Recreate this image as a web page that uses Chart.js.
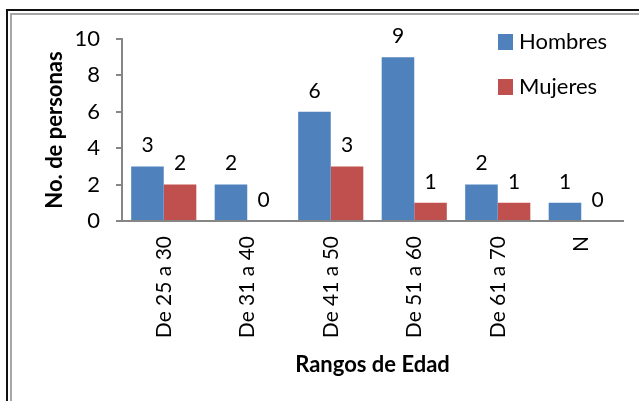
<!DOCTYPE html>
<html>
<head>
<meta charset="utf-8">
<script src="https://cdn.jsdelivr.net/npm/chart.js@4.4.1/dist/chart.umd.min.js"></script>
<style>
  html, body { margin: 0; padding: 0; background: #ffffff; }
  #wrap { width: 639px; height: 401px; position: relative; }
</style>
</head>
<body>
<div id="wrap"><canvas id="c" width="639" height="401"></canvas></div>
<script>
const categories = ["De 25 a 30", "De 31 a 40", "De 41 a 50", "De 51 a 60", "De 61 a 70", "N"];
const hombres = [3, 2, 6, 9, 2, 1];
const mujeres = [2, 0, 3, 1, 1, 0];
const seriesNames = ["Hombres", "Mujeres"];
const yTicks = [0, 2, 4, 6, 8, 10];

const FONT = "Lato, 'Open Sans', sans-serif";
const AXIS = "#868686";

const frame = {
  id: 'frame',
  beforeDraw(chart) {
    const ctx = chart.ctx;
    ctx.save();
    ctx.fillStyle = '#ffffff';
    ctx.fillRect(0, 0, chart.width, chart.height);
    ctx.fillStyle = '#111111';
    ctx.fillRect(6, 9, chart.width - 6, 2);
    ctx.fillRect(6, 9, 2, chart.height - 9);
    ctx.fillStyle = '#a6a6a6';
    ctx.fillRect(10, 13, chart.width - 10, 2);
    ctx.fillRect(10, 13, 2, chart.height - 13);
    ctx.restore();
  }
};

const valueLabels = {
  id: 'valueLabels',
  afterDatasetsDraw(chart) {
    const ctx = chart.ctx;
    ctx.save();
    ctx.font = "21px " + FONT;
    ctx.fillStyle = '#000000';
    ctx.textAlign = 'center';
    ctx.textBaseline = 'middle';
    chart.data.datasets.forEach((ds, i) => {
      const meta = chart.getDatasetMeta(i);
      meta.data.forEach((bar, j) => {
        ctx.fillText(String(ds.data[j]), bar.x, bar.y - 21);
      });
    });
    ctx.restore();
  }
};

const sideLegend = {
  id: 'sideLegend',
  afterDraw(chart) {
    const ctx = chart.ctx;
    const x0 = chart.chartArea.right - 125;
    const y0 = chart.chartArea.top + 3;
    ctx.save();
    ctx.font = "22px " + FONT;
    ctx.textAlign = 'left';
    ctx.textBaseline = 'middle';
    chart.data.datasets.forEach((ds, i) => {
      const y = y0 + i * 45;
      ctx.fillStyle = ds.backgroundColor;
      ctx.fillRect(x0, y - 8, 15, 16);
      ctx.fillStyle = '#000000';
      ctx.fillText(ds.label, x0 + 21, y);
    });
    ctx.restore();
  }
};

new Chart(document.getElementById('c'), {
  type: 'bar',
  data: {
    labels: categories,
    datasets: [
      { label: seriesNames[0], data: hombres, backgroundColor: '#4F81BD' },
      { label: seriesNames[1], data: mujeres, backgroundColor: '#C0504D' }
    ]
  },
  options: {
    responsive: false,
    animation: false,
    devicePixelRatio: 1,
    categoryPercentage: 0.78,
    barPercentage: 1.0,
    layout: { padding: { top: 39, right: 16, left: 0, bottom: 0 } },
    plugins: {
      legend: { display: false },
      tooltip: { enabled: false }
    },
    scales: {
      x: {
        grid: { display: true, drawOnChartArea: false, drawTicks: false, color: AXIS },
        border: { display: true, color: AXIS, width: 2 },
        ticks: {
          color: '#000000',
          font: { family: FONT, size: 21 },
          minRotation: 90,
          maxRotation: 90,
          autoSkip: false,
          padding: 15
        },
        title: {
          display: true,
          text: 'Rangos de Edad',
          color: '#000000',
          font: { family: FONT, size: 22, weight: 'bold' },
          padding: { top: 0, bottom: 23 }
        },
        afterFit(scale) { scale.height = 180; }
      },
      y: {
        min: 0,
        max: 10,
        afterBuildTicks(scale) { scale.ticks = yTicks.map(v => ({ value: v })); },
        grid: { display: true, drawOnChartArea: false, drawTicks: true, tickLength: 6, color: AXIS, lineWidth: 2 },
        border: { display: true, color: AXIS, width: 2 },
        ticks: {
          color: '#000000',
          font: { family: FONT, size: 22 },
          padding: 16
        },
        title: {
          display: true,
          text: 'No. de personas',
          color: '#000000',
          font: { family: FONT, size: 22, weight: 'bold' },
          padding: { top: 42, bottom: 0 }
        },
        afterFit(scale) { scale.width = 122; }
      }
    }
  },
  plugins: [frame, valueLabels, sideLegend]
});
</script>
</body>
</html>
